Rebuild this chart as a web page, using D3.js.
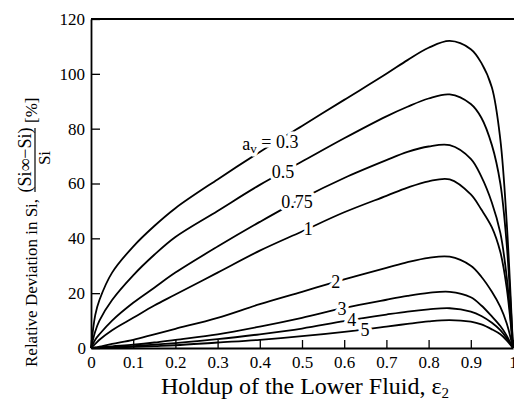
<!DOCTYPE html>
<html><head><meta charset="utf-8">
<script src="https://cdn.jsdelivr.net/npm/d3@7"></script>
<style>
html,body{margin:0;padding:0;background:#fff;}
svg text{font-family:"Liberation Serif","Times New Roman",serif;fill:#000;}
</style></head>
<body><svg id="c" width="514" height="411"></svg>
<script>
const xGrid = [0, 0.01, 0.02, 0.05, 0.1, 0.15, 0.2, 0.3, 0.4, 0.5, 0.6, 0.7, 0.75, 0.8, 0.85, 0.9, 0.925, 0.95, 0.97, 0.985, 1];
const av03 = [0,12,17.5,27.5,37,44.5,51,61.5,71.5,81,90.5,100,105,109.5,112,109,104,95,76,46,0];
const av05 = [0,6,10,17.5,26.5,34,40.5,50,59.5,68,76.5,84.5,88,91,92.5,89,84,74,60,38,0];
const av075 = [0,3,5,10,16.5,22,27.5,37,46,54.5,62,68.5,71.5,73.5,74,69,62.5,53,42,26,0];
const av1 = [0,1.5,3,6.5,11,15.5,19.5,27.5,35.5,42.5,49.5,55.5,58.5,60.8,61.5,56,50.5,44,35,22,0];
const av2 = [0,0.2,0.5,1.5,3,5,7,11,16,20.5,25,29.2,31.3,32.9,33.3,30,26,20.5,15,9,0];
const av3 = [0,0.1,0.2,0.6,1.2,2,3,5,7.8,11,14.6,17.6,19,20.1,20.5,18.5,15.5,11.5,8,4.5,0];
const av4 = [0,0.05,0.1,0.3,0.7,1.2,1.8,3.2,5,7.1,9.8,12.2,13.3,14.1,14.5,13.3,11.7,9.2,6.5,3.6,0];
const av5 = [0,0.02,0.05,0.2,0.4,0.7,1,2,3,4.3,5.9,7.8,8.8,9.7,10.2,9.6,8.6,6.8,5,2.8,0];
const seriesList = [av03, av05, av075, av1, av2, av3, av4, av5];
const curveLabels = ["0.3", "0.5", "0.75", "1", "2", "3", "4", "5"];
const labelX = [0.425, 0.455, 0.488, 0.515, 0.58, 0.595, 0.618, 0.649];
const xTicks = [0, 0.1, 0.2, 0.3, 0.4, 0.5, 0.6, 0.7, 0.8, 0.9, 1];
const xTickLabels = ["0", "0.1", "0.2", "0.3", "0.4", "0.5", "0.6", "0.7", "0.8", "0.9", "1"];
const yTicks = [0, 20, 40, 60, 80, 100, 120];

const SERIF = '"Liberation Serif","Times New Roman",serif';
const svg = d3.select("#c");
const x = d3.scaleLinear().domain([0, 1]).range([91, 513]);
const y = d3.scaleLinear().domain([0, 120]).range([348, 19]);

// curves
const line = d3.line().x((d, i) => x(xGrid[i])).y(d => y(d)).curve(d3.curveCatmullRom.alpha(0.5));
svg.append("g").selectAll("path").data(seriesList).join("path")
  .attr("d", d => line(d)).attr("fill", "none").attr("stroke", "#000").attr("stroke-width", 1.8);

// top frame line
svg.append("line").attr("x1", x(0)).attr("x2", 514).attr("y1", y(120)).attr("y2", y(120)).attr("stroke", "#000").attr("stroke-width", 1.8);

// axes
const xAxis = d3.axisBottom(x).tickValues(xTicks).tickSizeInner(-8).tickSizeOuter(0)
  .tickFormat((d, i) => xTickLabels[i]).tickPadding(9);
const gx = svg.append("g").attr("transform", `translate(0,${y(0)})`).call(xAxis);
const yAxis = d3.axisLeft(y).tickValues(yTicks).tickSizeInner(-9).tickSizeOuter(0).tickPadding(6);
const gy = svg.append("g").attr("transform", `translate(${x(0)},0)`).call(yAxis);
[gx, gy].forEach(g => {
  g.attr("font-family", SERIF).attr("font-size", 17);
  g.select(".domain").attr("stroke", "#000").attr("stroke-width", 1.8);
  g.selectAll(".tick line").attr("stroke", "#000").attr("stroke-width", 1.3);
  g.selectAll(".tick text").attr("font-family", SERIF).style("font-size", "17px").attr("fill", "#000");
});
gy.selectAll(".tick text").filter(d => d === 0).attr("x", -5);
gx.selectAll(".tick text").attr("dy", "0.62em");

// curve labels with white halo
function valueAt(arr, xi) {
  const idx = d3.bisectLeft(xGrid, xi);
  const x0 = xGrid[idx - 1], x1 = xGrid[idx];
  return arr[idx - 1] + (arr[idx] - arr[idx - 1]) * (xi - x0) / (x1 - x0);
}
const lab = svg.append("g");
curveLabels.forEach((t, i) => {
  const xi = labelX[i];
  const v = valueAt(seriesList[i], xi);
  const yy = y(v) + (i === 0 ? -2 : 0);
  [true, false].forEach(halo => {
    const txt = lab.append("text").attr("x", x(xi)).attr("y", yy).attr("dy", "0.35em")
      .attr("text-anchor", "middle").style("font-size", "18px");
    if (halo) txt.attr("fill", "#fff").attr("stroke", "#fff").attr("stroke-width", 7).attr("stroke-linejoin", "round");
    if (i === 0) {
      txt.append("tspan").text("a");
      txt.append("tspan").attr("dy", "0.25em").style("font-size", "13px").text("v");
      txt.append("tspan").attr("dy", "-0.3em").text(" = " + t);
    } else {
      txt.text(t);
    }
  });
});

// x axis title
const xt = svg.append("text").attr("x", 305).attr("y", 394).attr("text-anchor", "middle").style("font-size", "24px");
xt.append("tspan").text("Holdup of the Lower Fluid, ε");
xt.append("tspan").attr("dy", "0.25em").style("font-size", "15px").text("2");

// y axis title (rotated)
const yt = svg.append("g").attr("transform", "rotate(-90)");
yt.append("text").attr("x", -367).attr("y", 37).style("font-size", "17px").text("Relative Deviation in Si,");
yt.append("text").attr("x", -160).attr("y", 31).attr("text-anchor", "middle").style("font-size", "18px").text("(Si∞−Si)");
yt.append("line").attr("x1", -192).attr("x2", -128).attr("y1", 35).attr("y2", 35).attr("stroke", "#000").attr("stroke-width", 1.2);
yt.append("text").attr("x", -158).attr("y", 50).attr("text-anchor", "middle").style("font-size", "17px").text("Si");
yt.append("text").attr("x", -123).attr("y", 37).style("font-size", "17px").text("[%]");
</script></body></html>
